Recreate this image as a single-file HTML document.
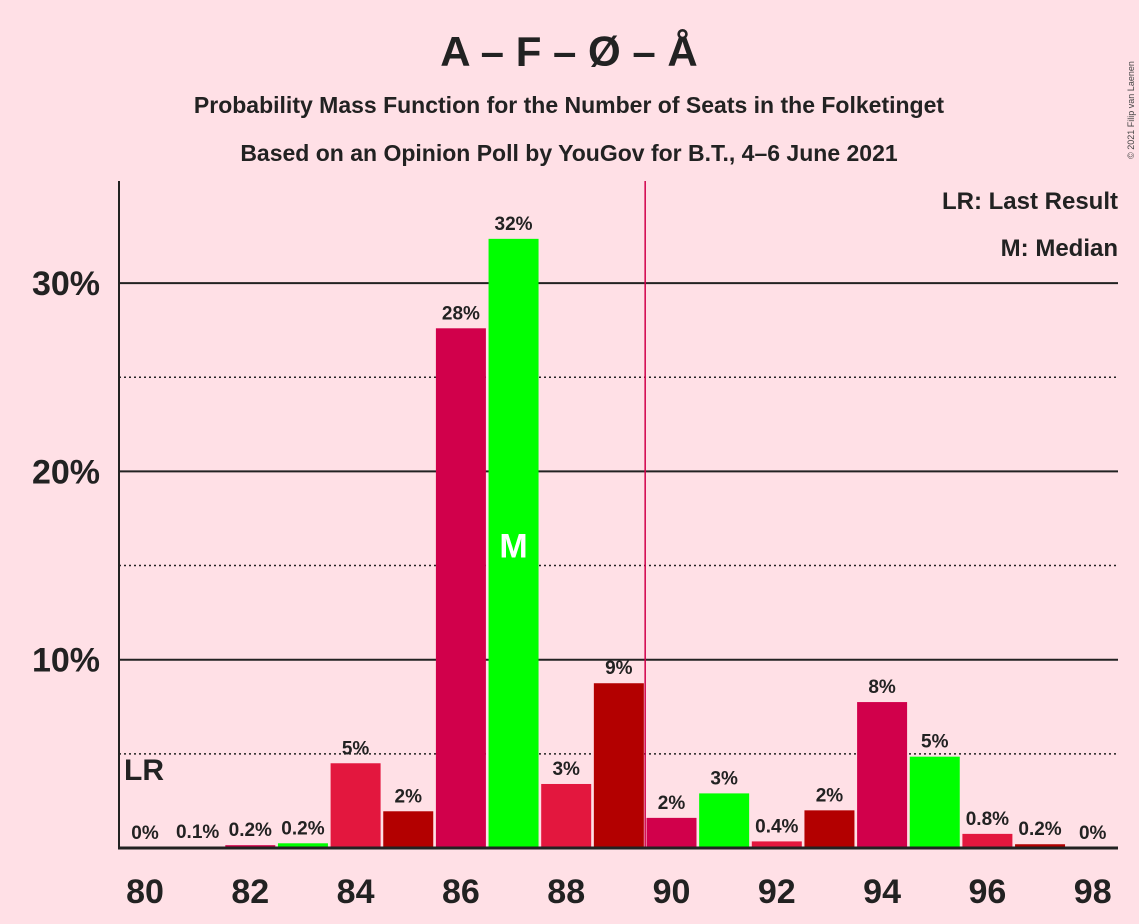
<!DOCTYPE html>
<html><head><meta charset="utf-8"><style>
body{margin:0;background:#ffe0e6;}
svg{display:block;font-family:"Liberation Sans",sans-serif;}
</style></head><body>
<svg id="c" width="1139" height="924">
<rect width="1139" height="924" fill="#ffe0e6"/>
<text x="569" y="66" text-anchor="middle" font-size="42" font-weight="bold" fill="#222">A – F – Ø – Å</text>
<text x="569" y="113" text-anchor="middle" font-size="23" font-weight="bold" fill="#222">Probability Mass Function for the Number of Seats in the Folketinget</text>
<text x="569" y="161" text-anchor="middle" font-size="23" font-weight="bold" fill="#222">Based on an Opinion Poll by YouGov for B.T., 4–6 June 2021</text>
<text x="1134" y="110" font-size="9" fill="#444" transform="rotate(-90 1134 110)" text-anchor="middle">© 2021 Filip van Laenen</text>
<g id="grid"></g><g id="bars"></g>
<text x="1118" y="209" text-anchor="end" font-size="24" font-weight="bold" fill="#222">LR: Last Result</text>
<text x="1118" y="256" text-anchor="end" font-size="24" font-weight="bold" fill="#222">M: Median</text>
</svg>
<script>
const seats=[80,81,82,83,84,85,86,87,88,89,90,91,92,93,94,95,96,97,98];
const probs=[0,0.05,0.15,0.25,4.5,1.95,27.6,32.35,3.4,8.75,1.6,2.9,0.35,2.0,7.75,4.85,0.75,0.2,0];
const labels=["0%","0.1%","0.2%","0.2%","5%","2%","28%","32%","3%","9%","2%","3%","0.4%","2%","8%","5%","0.8%","0.2%","0%"];
const yTicks=[10,20,30];
const yDotted=[5,15,25];
const xTicks=[80,82,84,86,88,90,92,94,96,98];
const median=87, lastResult=80, majority=89.5;
const colors=["#e3173e","#b30000","#d1004b","#00ff00"];
const ns="http://www.w3.org/2000/svg";
const X=s=>145+(s-80)*52.65, Y=v=>848-v*18.83;
const svg=document.getElementById('c'),g=document.getElementById('grid'),b=document.getElementById('bars');
function mk(tag,at,par){const e=document.createElementNS(ns,tag);for(const k in at)e.setAttribute(k,at[k]);par.appendChild(e);return e;}
yDotted.forEach(v=>{const l=mk('line',{x1:119,x2:1118,y1:Y(v),y2:Y(v),stroke:'#222','stroke-width':1.5,'stroke-dasharray':'2,3'},g);

});
yTicks.forEach(v=>{const l=mk('line',{x1:119,x2:1118,y1:Y(v),y2:Y(v),stroke:'#222','stroke-width':2},g);


const t=mk('text',{x:100,y:Y(v)+12,'text-anchor':'end','font-size':34,'font-weight':'bold',fill:'#222'},g);t.textContent=v+'%';

});
seats.forEach((s,i)=>{const v=probs[i];const c=colors[(s-80)%4];
if(v>0){const r=mk('rect',{x:X(s)-25,y:Y(v),width:50,height:848-Y(v),fill:c},b);

}
const t=mk('text',{x:X(s),y:Y(v)-9,'text-anchor':'middle','font-size':19,'font-weight':'bold',fill:'#222'},b);t.textContent=labels[i];


if(s===median){const m=mk('text',{x:X(s),y:(Y(v)+848)/2+14,'text-anchor':'middle','font-size':34,'font-weight':'bold',fill:'#fff'},b);m.textContent='M';

}
});
const lr=mk('text',{x:X(lastResult)-21,y:780,'font-size':30,'font-weight':'bold',fill:'#222'},b);lr.textContent='LR';


const mj=mk('line',{x1:X(majority),x2:X(majority),y1:181,y2:848,stroke:'#d1004b','stroke-width':1.5},b);


const ya=mk('line',{x1:119,x2:119,y1:181,y2:849,stroke:'#222','stroke-width':2},svg);


const xa=mk('line',{x1:118,x2:1118,y1:848,y2:848,stroke:'#222','stroke-width':3},svg);


xTicks.forEach(s=>{const t=mk('text',{x:X(s),y:903,'text-anchor':'middle','font-size':34,'font-weight':'bold',fill:'#222'},svg);t.textContent=s;

});
</script>
</body></html>
